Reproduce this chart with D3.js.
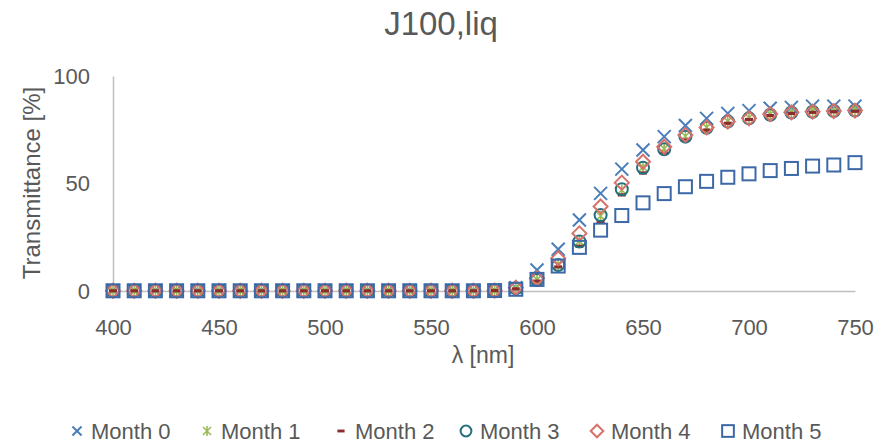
<!DOCTYPE html>
<html>
<head>
<meta charset="utf-8">
<script src="https://cdn.jsdelivr.net/npm/d3@7/dist/d3.min.js"></script>
<style>
  body { margin: 0; background: #fff; }
  text { font-family: "Liberation Sans", Arial, sans-serif; fill: #595959; }
</style>
</head>
<body>
<svg id="chart" width="895" height="445"></svg>
<script>
// Wavelength grid (nm)
const wavelengths = [400,410,420,430,440,450,460,470,480,490,500,510,520,530,540,550,560,570,580,
                     590,600,610,620,630,640,650,660,670,680,690,700,710,720,730,740,750];

// Transmittance [%] per storage month
const month0 = [0.2,0.2,0.2,0.2,0.2,0.2,0.2,0.2,0.2,0.2,0.2,0.2,0.2,0.2,0.2,0.2,0.2,0.2,0.3,
                1.5,9.8,19.4,33.0,45.4,56.7,65.6,71.8,77.0,80.3,82.6,83.9,85.0,85.4,86.0,86.0,86.0];
const month1 = [0.1,0.1,0.1,0.1,0.1,0.1,0.1,0.1,0.1,0.1,0.1,0.1,0.1,0.1,0.1,0.1,0.1,0.1,0.2,
                1.3,5.3,12.3,23.2,34.9,47.0,57.6,66.2,72.0,76.1,79.0,80.6,82.2,83.1,83.6,83.8,84.0];
const month2 = [0.1,0.1,0.1,0.1,0.1,0.1,0.1,0.1,0.1,0.1,0.1,0.1,0.1,0.1,0.1,0.1,0.1,0.1,0.2,
                1.0,4.6,11.2,20.8,32.2,44.7,54.9,64.0,70.2,74.8,78.0,79.8,81.6,82.6,83.1,83.4,83.6];
const month3 = [0.1,0.1,0.1,0.1,0.1,0.1,0.1,0.1,0.1,0.1,0.1,0.1,0.1,0.1,0.1,0.1,0.1,0.1,0.2,
                1.2,5.1,12.1,23.0,35.3,47.3,57.3,65.9,71.8,75.9,78.8,80.3,82.0,83.0,83.4,83.7,83.9];
const month4 = [0.1,0.1,0.1,0.1,0.1,0.1,0.1,0.1,0.1,0.1,0.1,0.1,0.1,0.1,0.1,0.1,0.1,0.1,0.2,
                1.5,5.9,15.2,26.8,39.3,50.4,60.1,67.1,72.6,76.1,78.8,80.3,82.3,83.1,83.4,83.7,83.9];
const month5 = [0.1,0.1,0.1,0.1,0.1,0.1,0.1,0.1,0.1,0.1,0.1,0.1,0.1,0.1,0.1,0.1,0.1,0.1,0.2,
                0.8,5.4,11.6,20.3,28.3,35.1,41.0,45.3,48.5,51.0,52.9,54.5,56.0,57.0,58.1,58.6,59.7];

const seriesNames = ["Month 0","Month 1","Month 2","Month 3","Month 4","Month 5"];
const seriesValues = [month0, month1, month2, month3, month4, month5];
const seriesColors = ["#4a7ebb","#9bbb59","#8b2e2b","#23707f","#d9716b","#3c68a8"];
const seriesMarkers = ["cross","star","dash","circle","diamond","square"];

const xTicks = [400,450,500,550,600,650,700,750];
const yTicks = [0,50,100];

const svg = d3.select("#chart");

const x = d3.scaleLinear().domain([400, 750]).range([113, 855]);
const y = d3.scaleLinear().domain([0, 100]).range([291, 76]);

// Title
svg.append("text")
  .attr("x", 441).attr("y", 35)
  .attr("text-anchor", "middle")
  .style("font-size", "33px")
  .text("J100,liq");

// Axes
const axisColor = "#bfbfbf";
const yAxis = svg.append("g")
  .attr("transform", `translate(${x.range()[0]},0)`)
  .call(d3.axisLeft(y).tickValues(yTicks).tickSize(0).tickPadding(23));
const xAxis = svg.append("g")
  .attr("transform", `translate(0,${y(0)})`)
  .call(d3.axisBottom(x).tickValues(xTicks).tickSize(0).tickPadding(28));
[xAxis, yAxis].forEach(g => {
  g.select(".domain").attr("stroke", axisColor).attr("stroke-width", 1.5);
  g.selectAll("text").style("font-size", "22px").style("fill", "#595959")
    .attr("font-family", null);
});

// Axis titles
svg.append("text")
  .attr("transform", "translate(40,183) rotate(-90)")
  .attr("text-anchor", "middle")
  .style("font-size", "24px")
  .text("Transmittance [%]");
svg.append("text")
  .attr("x", 483).attr("y", 363)
  .attr("text-anchor", "middle")
  .style("font-size", "23px")
  .text("λ [nm]");

// Marker drawing
function drawMarker(sel, type, color, s) {
  s = s || 1;
  if (type === "cross") {
    sel.append("path").attr("d", `M${-6.5*s},${-6.5*s}L${6.5*s},${6.5*s}M${-6.5*s},${6.5*s}L${6.5*s},${-6.5*s}`)
      .attr("stroke", color).attr("stroke-width", 2).attr("fill", "none");
  } else if (type === "star") {
    sel.append("path").attr("d", `M${-4.5*s},${-4.5*s}L${4.5*s},${4.5*s}M${-4.5*s},${4.5*s}L${4.5*s},${-4.5*s}M0,${-5.5*s}L0,${5.5*s}`)
      .attr("stroke", color).attr("stroke-width", 1.6).attr("fill", "none");
  } else if (type === "dash") {
    sel.append("rect").attr("x", -4*s).attr("y", -1.6*s).attr("width", 8*s).attr("height", 3.2*s)
      .attr("fill", color);
  } else if (type === "circle") {
    sel.append("circle").attr("r", 6*s)
      .attr("stroke", color).attr("stroke-width", 2).attr("fill", "none");
  } else if (type === "diamond") {
    sel.append("path").attr("d", `M0,${-7*s}L${7*s},0L0,${7*s}L${-7*s},0Z`)
      .attr("stroke", color).attr("stroke-width", 2).attr("fill", "none");
  } else if (type === "square") {
    sel.append("rect").attr("x", -6.5*s).attr("y", -6.5*s).attr("width", 13*s).attr("height", 13*s)
      .attr("stroke", color).attr("stroke-width", 2).attr("fill", "none");
  }
}

// Data markers, series in order (later series on top)
seriesValues.forEach((vals, i) => {
  const g = svg.append("g").attr("class", "series");
  g.selectAll("g.pt")
    .data(vals.map((v, k) => ({ w: wavelengths[k], v })))
    .join("g")
    .attr("class", "pt")
    .attr("transform", d => `translate(${x(d.w)},${y(d.v)})`)
    .each(function () { drawMarker(d3.select(this), seriesMarkers[i], seriesColors[i]); });
});

// Legend
const legendMarkerX = [77, 207, 341, 466, 597, 728];
const legend = svg.append("g");
seriesNames.forEach((name, i) => {
  const item = legend.append("g").attr("transform", `translate(${legendMarkerX[i]},431)`);
  drawMarker(item, seriesMarkers[i], seriesColors[i], seriesMarkers[i] === "cross" ? 0.7 : 0.9);
  item.append("text").attr("x", 14).attr("y", 7.5)
    .style("font-size", "22px")
    .text(name);
});
</script>
</body>
</html>
